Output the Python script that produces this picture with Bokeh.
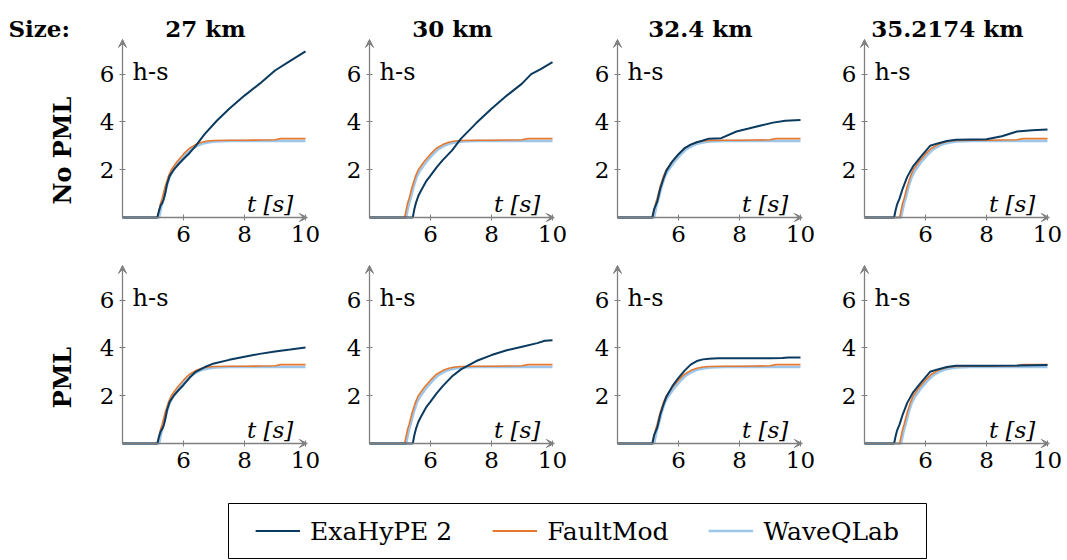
import math
from bokeh.plotting import figure
from bokeh.layouts import column, row
from bokeh.models import Range1d, FixedTicker, Arrow, VeeHead, Label, Legend, LegendItem
from bokeh.embed import file_html
from bokeh.resources import INLINE

SERIF = "DejaVu Serif"
GRAY = "#808080"
C_EXA = "#0b3a5f"
C_FM = "#e5772e"
C_WQ = "#9dc7ea"

sizes = ["27 km", "30 km", "32.4 km", "35.2174 km"]
row_labels = ["No PML", "PML"]
x_ticks = [6, 8, 10]
y_ticks = [2, 4, 6]
series_names = ["ExaHyPE 2", "FaultMod", "WaveQLab"]

# reference solutions (same in every panel)
fm_t = [4.0, 5.15, 5.2, 5.25, 5.3, 5.4, 5.5, 5.6, 5.8, 6.0, 6.2, 6.4, 6.6, 6.8, 7.0, 7.5, 8.0, 8.5, 9.0, 9.2, 10.0]
fm_y = [0.0, 0.0, 0.3, 0.6, 0.8, 1.3, 1.7, 2.0, 2.35, 2.65, 2.9, 3.05, 3.15, 3.2, 3.22, 3.23, 3.23, 3.24, 3.25, 3.3, 3.3]
wq_t = [4.0, 5.2, 5.25, 5.3, 5.35, 5.45, 5.55, 5.65, 5.85, 6.05, 6.25, 6.45, 6.65, 6.85, 7.05, 7.5, 8.0, 8.5, 9.0, 10.0]
wq_y = [0.0, 0.0, 0.3, 0.6, 0.8, 1.3, 1.7, 1.95, 2.3, 2.6, 2.85, 3.0, 3.1, 3.15, 3.18, 3.2, 3.2, 3.2, 3.2, 3.2]

# ExaHyPE 2, row "No PML"
exa_nopml_27_t = [4.0, 5.14, 5.2, 5.25, 5.3, 5.35, 5.4, 5.46, 5.55, 5.68, 5.85, 6.0, 6.2, 6.4, 6.7, 7.1, 7.5, 8.0, 8.5, 9.0, 9.5, 10.0]
exa_nopml_27_y = [0.0, 0.0, 0.3, 0.5, 0.6, 0.75, 1.0, 1.4, 1.75, 2.0, 2.25, 2.45, 2.7, 3.0, 3.5, 4.06, 4.55, 5.1, 5.6, 6.15, 6.55, 6.95]
exa_nopml_30_t = [4.0, 5.42, 5.47, 5.52, 5.6, 5.7, 5.85, 6.0, 6.2, 6.4, 6.7, 7.0, 7.5, 8.0, 8.5, 9.0, 9.3, 9.6, 10.0]
exa_nopml_30_y = [0.0, 0.0, 0.35, 0.6, 0.9, 1.15, 1.5, 1.75, 2.1, 2.4, 2.8, 3.3, 3.95, 4.55, 5.1, 5.6, 6.0, 6.2, 6.5]
exa_nopml_32_t = [4.0, 5.14, 5.2, 5.3, 5.4, 5.5, 5.6, 5.8, 6.0, 6.2, 6.4, 6.6, 6.8, 7.0, 7.4, 7.9, 8.3, 8.7, 9.1, 9.5, 10.0]
exa_nopml_32_y = [0.0, 0.0, 0.35, 0.65, 1.2, 1.6, 1.95, 2.35, 2.65, 2.9, 3.05, 3.15, 3.22, 3.3, 3.32, 3.6, 3.72, 3.85, 3.97, 4.05, 4.08]
exa_nopml_35_t = [4.0, 4.97, 5.02, 5.07, 5.15, 5.25, 5.4, 5.6, 5.85, 6.15, 6.4, 6.7, 7.0, 8.0, 8.5, 9.0, 9.5, 10.0]
exa_nopml_35_y = [0.0, 0.0, 0.3, 0.55, 0.8, 1.2, 1.7, 2.15, 2.55, 3.0, 3.1, 3.2, 3.25, 3.27, 3.4, 3.6, 3.65, 3.68]

# ExaHyPE 2, row "PML"
exa_pml_27_t = [4.0, 5.14, 5.2, 5.25, 5.3, 5.35, 5.4, 5.46, 5.55, 5.68, 5.85, 6.0, 6.2, 6.4, 6.7, 7.0, 7.5, 8.0, 8.5, 9.0, 9.5, 10.0]
exa_pml_27_y = [0.0, 0.0, 0.3, 0.5, 0.6, 0.75, 1.0, 1.4, 1.75, 2.0, 2.25, 2.45, 2.75, 3.0, 3.2, 3.35, 3.5, 3.63, 3.75, 3.85, 3.93, 4.02]
exa_pml_30_t = [4.0, 5.42, 5.47, 5.52, 5.6, 5.7, 5.85, 6.0, 6.2, 6.4, 6.7, 7.0, 7.5, 8.0, 8.5, 9.0, 9.5, 9.75, 10.0]
exa_pml_30_y = [0.0, 0.0, 0.35, 0.6, 0.9, 1.15, 1.5, 1.75, 2.1, 2.4, 2.8, 3.1, 3.45, 3.7, 3.9, 4.05, 4.2, 4.3, 4.32]
exa_pml_32_t = [4.0, 5.14, 5.2, 5.3, 5.4, 5.5, 5.6, 5.8, 6.0, 6.2, 6.4, 6.6, 6.8, 7.0, 7.3, 8.0, 9.0, 9.4, 9.6, 10.0]
exa_pml_32_y = [0.0, 0.0, 0.35, 0.65, 1.2, 1.6, 1.95, 2.4, 2.75, 3.05, 3.3, 3.45, 3.52, 3.55, 3.57, 3.57, 3.57, 3.58, 3.6, 3.6]
exa_pml_35_t = [4.0, 4.97, 5.02, 5.07, 5.15, 5.25, 5.4, 5.6, 5.85, 6.15, 6.4, 6.7, 7.0, 8.0, 9.0, 10.0]
exa_pml_35_y = [0.0, 0.0, 0.3, 0.55, 0.8, 1.2, 1.7, 2.15, 2.55, 3.0, 3.1, 3.2, 3.25, 3.25, 3.26, 3.28]

exa = [
    [(exa_nopml_27_t, exa_nopml_27_y), (exa_nopml_30_t, exa_nopml_30_y),
     (exa_nopml_32_t, exa_nopml_32_y), (exa_nopml_35_t, exa_nopml_35_y)],
    [(exa_pml_27_t, exa_pml_27_y), (exa_pml_30_t, exa_pml_30_y),
     (exa_pml_32_t, exa_pml_32_y), (exa_pml_35_t, exa_pml_35_y)],
]

# layout geometry (pixels)
PX_X = 30.5      # pixels per second
PX_Y = 23.9      # pixels per unit of h-s
col_x0 = [0, 328, 576, 823]
col_w = [328, 248, 247, 244]
col_axis = [122, 369, 617, 864]     # page x of the y axis (t = 4)
row_y0 = [0, 258]
row_h = [258, 228]
row_axis = [217, 443]               # page y of the x axis (h-s = 0)


def make_panel(r, c):
    xs = 4 - (col_axis[c] - col_x0[c]) / PX_X
    ys = -(row_y0[r] + row_h[r] - row_axis[r]) / PX_Y
    p = figure(width=col_w[c], height=row_h[r], output_backend="svg", toolbar_location=None,
               x_range=Range1d(xs, xs + col_w[c] / PX_X), y_range=Range1d(ys, ys + row_h[r] / PX_Y),
               min_border_left=0, min_border_right=0, min_border_top=0, min_border_bottom=0)
    p.outline_line_color = None
    p.xgrid.visible = False
    p.ygrid.visible = False
    p.xaxis.fixed_location = 0
    p.yaxis.fixed_location = 4
    for ax, ticks in ((p.xaxis, x_ticks), (p.yaxis, y_ticks)):
        ax.ticker = FixedTicker(ticks=ticks)
        ax.axis_line_color = None
        ax.major_tick_line_color = GRAY
        ax.major_tick_in = 3
        ax.major_tick_out = 3
        ax.minor_tick_line_color = None
        ax.major_label_text_font = SERIF
        ax.major_label_text_font_size = "23px"
        ax.major_label_text_color = "black"
        ax.major_label_standoff = 5
    head = dict(size=8, line_color=GRAY, fill_color=GRAY, line_width=1)
    p.add_layout(Arrow(end=VeeHead(**head), x_start=4, y_start=0, x_end=10.06, y_end=0,
                       line_color=GRAY, line_width=1.3))
    p.add_layout(Arrow(end=VeeHead(**head), x_start=4, y_start=0, x_end=4, y_end=7.45,
                       line_color=GRAY, line_width=1.3))

    p.line(wq_t, wq_y, line_color=C_WQ, line_width=2.5)
    p.line(fm_t, fm_y, line_color=C_FM, line_width=1.6)
    et, ey = exa[r][c]
    p.line(et, ey, line_color=C_EXA, line_width=2)

    p.add_layout(Label(x=4.33, y=6.1, text="h-s", text_font=SERIF, text_font_size="24px",
                       text_baseline="alphabetic", text_color="black"))
    p.add_layout(Label(x=9.6, y=0.55, text="t [s]", text_font=SERIF, text_font_size="23px",
                       text_font_style="italic", text_align="right",
                       text_baseline="alphabetic", text_color="black"))
    if r == 0:
        p.add_layout(Label(x=6.72, y=7.91, text=sizes[c], text_font=SERIF, text_font_size="23px",
                           text_font_style="bold", text_align="center",
                           text_baseline="alphabetic", text_color="black"))
    if r == 0 and c == 0:
        p.add_layout(Label(x=0.26, y=7.91, text="Size:", text_font=SERIF, text_font_size="23px",
                           text_font_style="bold", text_align="left",
                           text_baseline="alphabetic", text_color="black"))
    if c == 0:
        ly = 2.8 if r == 0 else 2.76
        p.add_layout(Label(x=2.03, y=ly, text=row_labels[r], text_font=SERIF, text_font_size="24px",
                           text_font_style="bold", text_align="center", text_baseline="middle",
                           angle=math.pi / 2, text_color="black"))
    return p


rows = [row(*[make_panel(r, c) for c in range(4)]) for r in range(2)]

# legend box: its frame is the box, the series are drawn outside the visible range
leg = figure(width=1067, height=74, output_backend="svg", toolbar_location=None,
             x_range=Range1d(0, 1), y_range=Range1d(-1, 0),
             min_border_left=228, min_border_right=141, min_border_top=17, min_border_bottom=2)
leg.xaxis.visible = False
leg.yaxis.visible = False
leg.xgrid.visible = False
leg.ygrid.visible = False
leg.outline_line_color = "black"
leg.outline_line_width = 1
r1 = leg.line(exa_nopml_27_t, exa_nopml_27_y, line_color=C_EXA, line_width=2)
r2 = leg.line(fm_t, fm_y, line_color=C_FM, line_width=2)
r3 = leg.line(wq_t, wq_y, line_color=C_WQ, line_width=2.5)
legend = Legend(items=[LegendItem(label=series_names[0], renderers=[r1]),
                       LegendItem(label=series_names[1], renderers=[r2]),
                       LegendItem(label=series_names[2], renderers=[r3])],
                location="center", orientation="horizontal",
                label_text_font=SERIF, label_text_font_size="25px", label_text_color="black",
                glyph_width=45, glyph_height=20, label_standoff=10, spacing=40,
                padding=0, margin=0, border_line_color=None, background_fill_alpha=0)
leg.add_layout(legend)

layout = column(rows[0], rows[1], leg)
open("out.html", "w").write(file_html(layout, INLINE))
